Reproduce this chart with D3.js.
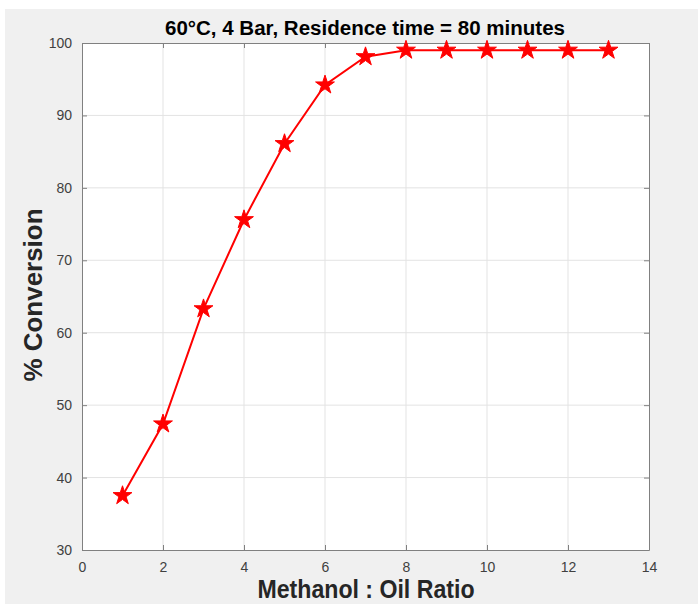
<!DOCTYPE html>
<html>
<head>
<meta charset="utf-8">
<script src="https://cdn.jsdelivr.net/npm/d3@7"></script>
<style>
  body { margin: 0; background: #fff; }
  text { font-family: "Liberation Sans", Arial, sans-serif; }
</style>
</head>
<body>
<svg id="chart" width="698" height="605"></svg>
<script>
// methanol : oil ratio vs % conversion
const ratios = [1, 2, 3, 4, 5, 6, 7, 8, 9, 10, 11, 12, 13]
const conversion = [37.5, 47.4, 63.3, 75.6, 86.1, 94.2, 98.1, 99, 99, 99, 99, 99, 99]
const xTicks = [0, 2, 4, 6, 8, 10, 12, 14]
const yTicks = [30, 40, 50, 60, 70, 80, 90, 100]

const titleText = '60°C, 4 Bar, Residence time = 80 minutes'
const xLabel = 'Methanol : Oil Ratio'
const yLabel = '% Conversion'

const margin = { top: 43, right: 49, bottom: 55, left: 82 }
const width = 698 - margin.left - margin.right
const height = 605 - margin.top - margin.bottom

const svg = d3.select('#chart')

// figure background
svg.append('rect')
    .attr('x', 5).attr('y', 9)
    .attr('width', 693).attr('height', 595)
    .attr('fill', '#f0f0f0')

const chart = svg.append('g')
    .attr('transform', `translate(${margin.left},${margin.top})`)

const x = d3.scaleLinear().domain([0, 14]).range([0, width])
const y = d3.scaleLinear().domain([30, 100]).range([height, 0])

chart.append('rect')
    .attr('width', width).attr('height', height)
    .attr('fill', '#fff')

// grid
chart.append('g')
    .selectAll('line')
    .data(xTicks.slice(1, -1))
    .join('line')
        .attr('x1', d => x(d)).attr('x2', d => x(d))
        .attr('y1', 0).attr('y2', height)
        .attr('stroke', '#e3e3e3')
chart.append('g')
    .selectAll('line')
    .data(yTicks.slice(1, -1))
    .join('line')
        .attr('y1', d => y(d)).attr('y2', d => y(d))
        .attr('x1', 0).attr('x2', width)
        .attr('stroke', '#e3e3e3')

const xAxis = d3.axisBottom(x).tickValues(xTicks).tickSizeInner(-5).tickSizeOuter(0).tickPadding(12)
const yAxis = d3.axisLeft(y).tickValues(yTicks).tickSizeInner(-5).tickSizeOuter(0).tickPadding(10)
const xAxisTop = d3.axisTop(x).tickValues(xTicks).tickSizeInner(-5).tickSizeOuter(0).tickFormat('')
const yAxisRight = d3.axisRight(y).tickValues(yTicks).tickSizeInner(-5).tickSizeOuter(0).tickFormat('')

const styleAxis = g => {
    g.select('.domain').attr('stroke', '#808080').attr('stroke-width', 1)
    g.selectAll('.tick line').attr('stroke', '#808080')
    g.selectAll('.tick text')
        .attr('fill', '#404040')
        .attr('font-size', 14)
        .attr('font-family', '"Liberation Sans", Arial, sans-serif')
}

chart.append('g').attr('transform', `translate(0,${height})`).call(xAxis).call(styleAxis)
chart.append('g').call(yAxis).call(styleAxis)
chart.append('g').call(xAxisTop).call(styleAxis)
chart.append('g').attr('transform', `translate(${width},0)`).call(yAxisRight).call(styleAxis)

// series
const pts = ratios.map((r, i) => ({ r: r, c: conversion[i] }))

const line = d3.line()
    .x(d => x(d.r))
    .y(d => y(d.c))

chart.append('path')
    .datum(pts)
    .attr('d', line)
    .attr('fill', 'none')
    .attr('stroke', '#ff0000')
    .attr('stroke-width', 2)

const star = d3.symbol().type(d3.symbolStar).size(110)
chart.selectAll('.star')
    .data(pts)
    .join('path')
        .attr('class', 'star')
        .attr('transform', d => `translate(${x(d.r)},${y(d.c)})`)
        .attr('d', star)
        .attr('fill', '#ff0000')
        .attr('stroke', '#ff0000')
        .attr('stroke-width', 1)

// labels
svg.append('text')
    .attr('x', 365).attr('y', 35)
    .attr('text-anchor', 'middle')
    .attr('font-weight', 'bold')
    .attr('font-size', 20)
    .attr('fill', '#000')
    .attr('textLength', 400).attr('lengthAdjust', 'spacingAndGlyphs')
    .text(titleText)

svg.append('text')
    .attr('x', 366).attr('y', 598)
    .attr('text-anchor', 'middle')
    .attr('font-weight', 'bold')
    .attr('font-size', 25)
    .attr('fill', '#262626')
    .attr('textLength', 217).attr('lengthAdjust', 'spacingAndGlyphs')
    .text(xLabel)

svg.append('text')
    .attr('transform', 'translate(42,295) rotate(-90)')
    .attr('text-anchor', 'middle')
    .attr('font-weight', 'bold')
    .attr('font-size', 26)
    .attr('fill', '#262626')
    .attr('textLength', 173).attr('lengthAdjust', 'spacingAndGlyphs')
    .text(yLabel)
</script>
</body>
</html>
